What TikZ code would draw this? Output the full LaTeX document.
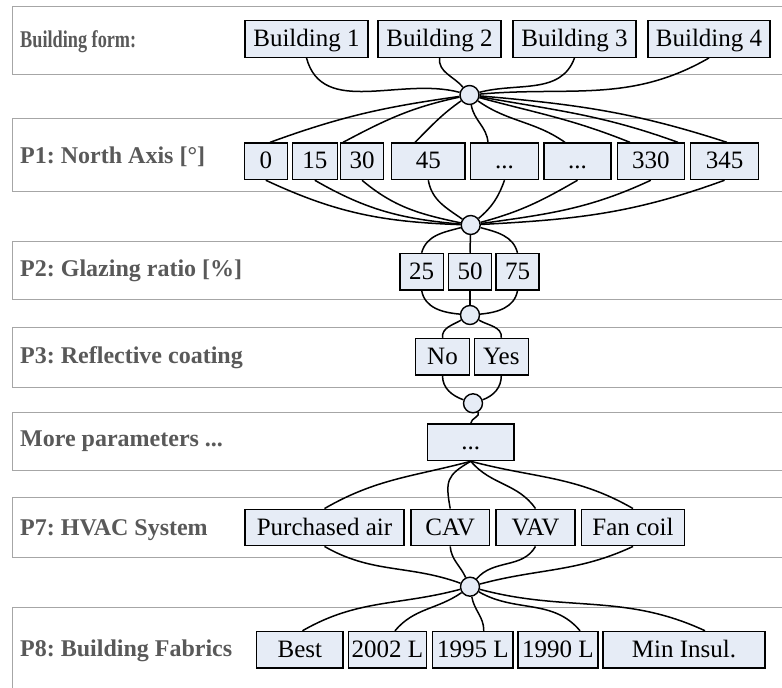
\documentclass[tikz,border=0pt]{standalone}
\usepackage{fontspec}
\setmainfont{Liberation Serif}
\definecolor{boxfill}{HTML}{E6ECF6}
\definecolor{labelgray}{HTML}{595959}
\definecolor{bandgray}{HTML}{A6A6A6}
\begin{document}
\frenchspacing
\begin{tikzpicture}[x=1pt,y=1pt,
  band/.style={draw=bandgray, line width=1pt},
  lab/.style={anchor=base west, inner sep=0pt, text=labelgray, font=\fontsize{24}{24}\selectfont\bfseries},
  opt/.style={draw=black, fill=boxfill, line width=1.4pt, inner sep=0pt, font=\fontsize{25}{25}\selectfont, minimum height=36.5pt, text height=19pt, text depth=4pt},
  hub/.style={circle, draw=black, fill=boxfill, line width=1.4pt, minimum size=19pt, inner sep=0pt},
  link/.style={line width=1.5pt}]
\useasboundingbox (0,0) rectangle (782,-688);
\clip (0,0) rectangle (782,-688);
\fill[white] (0,0) rectangle (782,-688);
% bands
\draw[band] (12,-6) rectangle (800,-74);
\draw[band] (12,-118) rectangle (800,-191);
\draw[band] (12,-241) rectangle (800,-299);
\draw[band] (12,-327) rectangle (800,-387);
\draw[band] (12,-412) rectangle (800,-470);
\draw[band] (12,-497) rectangle (800,-557);
\draw[band] (12,-607) rectangle (800,-700);
% labels
\node[lab] (l0) at (20,-47) {\scalebox{0.76}[1]{Building form:}};
\node[lab] (l1) at (20,-163.3) {P1: North Axis [°]};
\node[lab] (l2) at (20,-276.7) {P2: Glazing ratio [\%]};
\node[lab] (l3) at (20,-363.3) {P3: Reflective coating};
\node[lab] (l4) at (20,-446.7) {More parameters ...};
\node[lab] (l5) at (20,-535) {P7: HVAC System};
\node[lab] (l6) at (20,-656.7) {P8: Building Fabrics};
% row 0
\node[opt, minimum width=123pt] (b1) at (306.5,-39) {Building 1};
\node[opt, minimum width=123pt] (b2) at (439.5,-39) {Building 2};
\node[opt, minimum width=123pt] (b3) at (574.5,-39) {Building 3};
\node[opt, minimum width=122pt] (b4) at (709,-39) {Building 4};
% row 1
\node[opt, minimum width=43pt] (p0) at (265.8,-161.3) {0};
\node[opt, minimum width=45pt] (p15) at (314.8,-161.3) {15};
\node[opt, minimum width=42.6pt] (p30) at (362,-161.3) {30};
\node[opt, minimum width=73.3pt] (p45) at (428.3,-161.3) {45};
\node[opt, minimum width=67.6pt] (pd1) at (504.5,-161.3) {...};
\node[opt, minimum width=67pt] (pd2) at (577.5,-161.3) {...};
\node[opt, minimum width=67pt] (p330) at (650.8,-161.3) {330};
\node[opt, minimum width=67.6pt] (p345) at (724.5,-161.3) {345};
% row 2
\node[opt, minimum width=43.3pt] (q25) at (421.7,-271.7) {25};
\node[opt, minimum width=43.4pt] (q50) at (470,-271.7) {50};
\node[opt, minimum width=43pt] (q75) at (517.5,-271.7) {75};
% row 3
\node[opt, minimum width=53.6pt] (rno) at (442.5,-356.7) {No};
\node[opt, minimum width=54pt] (ryes) at (501.3,-356.7) {Yes};
% row 4
\node[opt, minimum width=86.3pt] (dots) at (470.8,-442.3) {...};
% row 5
\node[opt, minimum width=159pt] (pa) at (324.5,-527.5) {Purchased air};
\node[opt, minimum width=78.3pt] (cav) at (450.2,-527.5) {CAV};
\node[opt, minimum width=79pt] (vav) at (535.5,-527.5) {VAV};
\node[opt, minimum width=102.6pt] (fan) at (633,-527.5) {Fan coil};
% row 6
\node[opt, minimum width=86.5pt] (s1) at (299.8,-649.7) {Best};
\node[opt, minimum width=78pt] (s2) at (387.5,-649.7) {2002 L};
\node[opt, minimum width=80.5pt] (s3) at (472.8,-649.7) {1995 L};
\node[opt, minimum width=80pt] (s4) at (558,-649.7) {1990 L};
\node[opt, minimum width=162pt] (s5) at (684,-649.7) {Min Insul.};
% hubs
\node[hub] (h1) at (469.5,-95) {};
\node[hub] (h2) at (470.7,-225) {};
\node[hub] (h3) at (470,-315) {};
\node[hub] (h4) at (473,-403.3) {};
\node[hub] (h5) at (470,-586.7) {};
% row 0 -> h1
\draw[link] (b1.south) to[out=-75,in=165] (h1);
\draw[link] (b2.south) to[out=-95,in=130] (h1);
\draw[link] (b3.south) to[out=-110,in=15] (h1);
\draw[link] (b4.south) to[out=-150,in=5] (h1);
% h1 -> row 1
\draw[link] (h1) to[out=188,in=20] ([xshift=4.2pt]p0.north);
\draw[link] (h1) to[out=192,in=28] ([xshift=-19pt]p30.north);
\draw[link] (h1) to[out=215,in=45] ([xshift=-13.3pt]p45.north);
\draw[link] (h1) to[out=-80,in=95] ([xshift=-16.5pt]pd1.north);
\draw[link] (h1) to[out=-35,in=145] ([xshift=-12.5pt]pd2.north);
\draw[link] (h1) to[out=-15,in=158] ([xshift=-20.8pt]p330.north);
\draw[link] (h1) to[out=-10,in=160] ([xshift=27.2pt]p330.north);
\draw[link] (h1) to[out=-5,in=162] ([xshift=2.5pt]p345.north);
% row 1 -> h2
\draw[link] (p0.south) to[out=-25,in=178] (h2);
\draw[link] (p15.south) to[out=-30,in=175] (h2);
\draw[link] (p30.south) to[out=-40,in=168] (h2);
\draw[link] (p45.south) to[out=-80,in=145] (h2);
\draw[link] (pd1.south) to[out=-110,in=40] (h2);
\draw[link] (pd2.south) to[out=-150,in=15] (h2);
\draw[link] (p330.south) to[out=-155,in=8] (h2);
\draw[link] (p345.south) to[out=-160,in=3] (h2);
% h2 -> row 2 -> h3
\draw[link] (h2) to[out=195,in=75] (q25.north);
\draw[link] (h2) -- (q50.north);
\draw[link] (h2) to[out=-15,in=105] (q75.north);
\draw[link] (q25.south) to[out=-80,in=175] (h3);
\draw[link] (q50.south) -- (h3);
\draw[link] (q75.south) to[out=-100,in=5] (h3);
% h3 -> row 3 -> h4
\draw[link] (h3) to[out=210,in=95] (rno.north);
\draw[link] (h3) to[out=-30,in=85] (ryes.north);
\draw[link] (rno.south) to[out=-90,in=160] (h4);
\draw[link] (ryes.south) to[out=-90,in=20] (h4);
% h4 -> dots
\draw[link] (h4) to[out=-60,in=90] (dots.north);
% dots -> row 5
\draw[link] (dots.south) to[out=195,in=30] (pa.north);
\draw[link] (dots.south) to[out=210,looseness=1.4,in=100] (cav.north);
\draw[link] (dots.south) to[out=-50,in=125] (vav.north);
\draw[link] (dots.south) to[out=-15,in=150] (fan.north);
% row 5 -> h5
\draw[link] (pa.south) to[out=-30,in=160] (h5);
\draw[link] (cav.south) to[out=-85,in=115] (h5);
\draw[link] (vav.south) to[out=-120,in=50] (h5);
\draw[link] (fan.south) to[out=-155,in=15] (h5);
% h5 -> row 6
\draw[link] (h5) to[out=195,in=30] ([xshift=2.7pt]s1.north);
\draw[link] (h5) to[out=215,in=50] ([xshift=7.5pt]s2.north);
\draw[link] (h5) to[out=-80,in=90] ([xshift=11pt]s3.north);
\draw[link] (h5) to[out=-30,in=130] ([xshift=22pt]s4.north);
\draw[link] (h5) to[out=-15,in=155] ([xshift=21pt]s5.north);
\end{tikzpicture}
\end{document}
